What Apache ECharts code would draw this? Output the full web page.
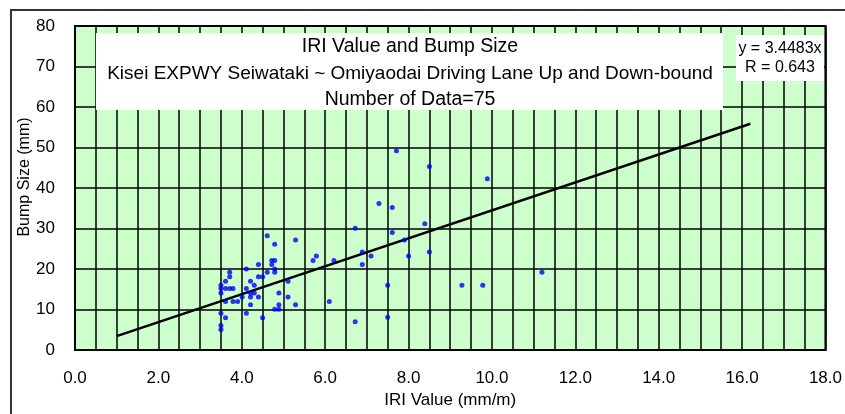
<!DOCTYPE html>
<html><head><meta charset="utf-8">
<script src="https://cdn.jsdelivr.net/npm/echarts@6/dist/echarts.min.js"></script>
<style>html,body{margin:0;padding:0;background:#fff;overflow:hidden}#c{width:845px;height:414px}</style>
</head><body><div id="c"></div>
<script>
var iri = [4.61,5.29,4.79,4.72,4.79,4.72,4.40,4.11,4.79,4.79,4.61,3.71,3.71,4.40,4.50,3.61,4.21,5.11,3.50,4.30,3.50,3.61,3.71,3.79,4.11,3.50,4.30,4.21,4.89,4.01,4.21,4.40,5.11,3.61,3.79,3.90,4.21,4.89,5.29,4.79,4.89,3.50,4.11,3.61,4.50,3.50,3.50,5.71,5.79,
  7.71,8.50,7.29,7.61,8.39,6.72,7.61,7.90,6.89,8.50,7.10,8.00,6.21,6.89,7.50,6.10,7.50,6.72,
  9.89,9.28,9.78,11.2];
var bump = [28.2,27.2,26.1,22.1,22.1,21.1,21.1,20.0,20.0,19.2,19.2,19.2,18.1,18.1,18.1,17.0,17.0,17.0,16.0,16.0,15.2,15.2,15.2,15.2,15.2,14.1,14.1,14.1,14.1,13.1,13.1,13.1,13.1,12.0,12.0,12.0,11.2,11.2,11.2,10.1,10.1,9.1,9.1,8.0,8.0,6.1,5.1,22.1,23.2,
  49.2,45.3,36.2,35.2,31.2,30.1,29.0,27.2,24.2,24.2,23.2,23.2,22.1,21.1,16.0,12.0,8.1,7.0,
  42.3,16.0,16.0,19.2];
var slope = 3.4483;
var fitX = [1.0, 16.2];
var titleLines = ['IRI Value and Bump Size','Kisei EXPWY Seiwataki ~ Omiyaodai Driving Lane Up and Down-bound','Number of Data=75'];
var eqLines = ['y = 3.4483x','R = 0.643'];
var xName = 'IRI Value (mm/m)';
var yName = 'Bump Size (mm)';

var pts = iri.map(function(x,i){return [x,bump[i]];});
var fit = fitX.map(function(x){return [x, slope*x];});
var FONT = 'Liberation Sans, Arial, sans-serif';
var chart = echarts.init(document.getElementById('c'), null, {width:845, height:414});
var gridStyle = {color:'#000', width:1.5};
chart.setOption({
  animation:false,
  textStyle:{fontFamily:FONT},
  grid:{left:75, top:26, width:753, height:331, show:true, backgroundColor:'#ccffcc', borderColor:'#000', borderWidth:2, containLabel:false},
  xAxis:{type:'value', min:0, max:18, interval:2,
    axisLine:{show:true, lineStyle:{color:'#000', width:2}},
    axisTick:{show:false},
    axisLabel:{color:'#000', fontSize:17, margin:20, formatter:function(v){return v.toFixed(1);}},
    splitLine:{show:true, lineStyle:gridStyle},
    minorTick:{show:false, splitNumber:4},
    minorSplitLine:{show:true, lineStyle:gridStyle},
    name:xName, nameLocation:'middle', nameGap:41, nameTextStyle:{color:'#000', fontSize:17}},
  yAxis:{type:'value', min:0, max:80, interval:10,
    axisLine:{show:true, lineStyle:{color:'#000', width:2}},
    axisTick:{show:false},
    axisLabel:{color:'#000', fontSize:17, margin:20},
    splitLine:{show:true, lineStyle:gridStyle}},
  graphic:[
    {type:'rect', shape:{x:11,y:10,width:900,height:500}, style:{fill:'none', stroke:'#333', lineWidth:2}, z:100},
    {type:'text', x:25, y:177, rotation:Math.PI/2, style:{text:yName, fontSize:16, fontFamily:FONT, fill:'#000', align:'center', verticalAlign:'middle'}, z:51},
    {type:'rect', shape:{x:96,y:33,width:627,height:77}, style:{fill:'#fff'}, z:50},
    {type:'text', x:410, y:47, style:{text:titleLines[0], fontSize:19.5, fontFamily:FONT, fill:'#000', align:'center', verticalAlign:'middle'}, z:51},
    {type:'text', x:410, y:74, style:{text:titleLines[1], fontSize:19, fontFamily:FONT, fill:'#000', align:'center', verticalAlign:'middle'}, z:51},
    {type:'text', x:410, y:100, style:{text:titleLines[2], fontSize:19.5, fontFamily:FONT, fill:'#000', align:'center', verticalAlign:'middle'}, z:51},
    {type:'rect', shape:{x:736,y:35,width:88,height:46}, style:{fill:'#fff'}, z:50},
    {type:'text', x:780, y:49, style:{text:eqLines[0], fontSize:16, fontFamily:FONT, fill:'#000', align:'center', verticalAlign:'middle'}, z:51},
    {type:'text', x:780, y:68, style:{text:eqLines[1], fontSize:16, fontFamily:FONT, fill:'#000', align:'center', verticalAlign:'middle'}, z:51}
  ],
  series:[
    {type:'line', data:fit, symbol:'none', lineStyle:{color:'#000', width:2.5}, z:3, silent:true},
    {type:'scatter', data:pts, symbol:'circle', symbolSize:5, itemStyle:{color:'#0000ff'}, z:4}
  ]
});
</script></body></html>
